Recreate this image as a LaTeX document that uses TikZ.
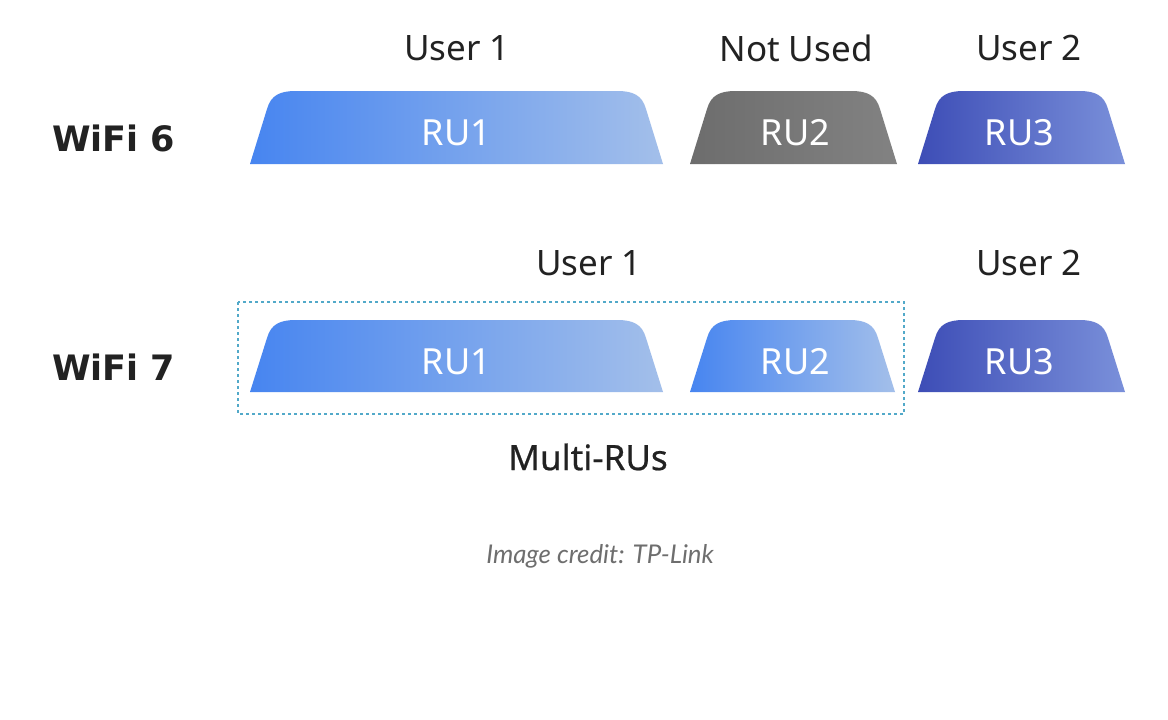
\documentclass[tikz,border=0pt]{standalone}
\usepackage{fontspec}
\setmainfont{Noto Sans}
\newfontfamily\latofont{Lato}
\newfontfamily\rowfont{DejaVu Sans}
\definecolor{txt}{HTML}{222222}
\definecolor{blueA}{HTML}{4785F0}
\definecolor{blueB}{HTML}{A3BFEA}
\definecolor{indA}{HTML}{3D4DB6}
\definecolor{indB}{HTML}{7A90DA}
\definecolor{grayA}{HTML}{6D6D6D}
\definecolor{grayB}{HTML}{828282}
\definecolor{dashc}{HTML}{52A9C9}
\definecolor{credc}{HTML}{6E6E6E}
\newcommand{\rushape}[5]{% xbl, xbr, ytop, ybot, options
  \shade[#5] (#1,#4) -- ({#1+17},{#3+18})
    .. controls ({#1+21},{#3+4}) and ({#1+30},{#3}) .. ({#1+46},{#3})
    -- ({#2-46},{#3})
    .. controls ({#2-30},{#3}) and ({#2-21},{#3+4}) .. ({#2-17},{#3+18})
    -- (#2,#4) -- cycle;}
\tikzset{
  lbl/.style={font=\fontsize{35}{38}\selectfont, text=txt, inner sep=0pt},
  rowlbl/.style={font=\rowfont\bfseries\fontsize{35}{38}\selectfont, text=txt, inner sep=0pt, anchor=west},
  rutext/.style={font=\fontsize{36}{38}\selectfont, text=white, inner sep=0pt},
  blueg/.style={left color=blueA, right color=blueB},
  indg/.style={left color=indA, right color=indB},
  grayg/.style={left color=grayA, right color=grayB},
}
\begin{document}
\begin{tikzpicture}[x=1pt,y=-1pt]
\useasboundingbox (0,0) rectangle (1168,720);
\fill[white] (0,0) rectangle (1168,720);
% WiFi 6 row
\rushape{250}{663}{91}{164}{blueg}
\rushape{690}{897}{91}{164}{grayg}
\rushape{918}{1125}{91}{164}{indg}
\node[rutext] (w6r1) at (456.5,133) {RU1};
\node[rutext] (w6r2) at (795.5,133) {RU2};
\node[rutext] (w6r3) at (1019.5,133) {RU3};
\node[lbl] (w6u1) at (457,48) {User 1};
\node[lbl] (w6nu) at (796,48) {Not Used};
\node[lbl] (w6u2) at (1029,48) {User 2};
\node[rowlbl] (w6) at (52,138) {WiFi 6};
% WiFi 7 row
\draw[dashc, line width=1.3pt, dash pattern=on 3pt off 3pt] (238,302) rectangle (904,414);
\rushape{250}{663}{320}{392}{blueg}
\rushape{690}{895}{320}{392}{blueg}
\rushape{918}{1125}{320}{392}{indg}
\node[rutext] (w7r1) at (456.5,362) {RU1};
\node[rutext] (w7r2) at (795.5,362) {RU2};
\node[rutext] (w7r3) at (1019.5,362) {RU3};
\node[lbl] (w7u1) at (589,263) {User 1};
\node[lbl] (w7u2) at (1029,263) {User 2};
\node[rowlbl] (w7) at (52,367) {WiFi 7};
\node[lbl, font=\fontsize{35}{38}\selectfont\addfontfeature{FakeBold=0.6}] (multi) at (588,457) {Multi-RUs};
\node[inner sep=0pt, text=credc, font=\latofont\itshape\fontsize{25.8}{28}\selectfont] (cred) at (600,556) {Image credit: TP-Link};
\end{tikzpicture}
\end{document}
